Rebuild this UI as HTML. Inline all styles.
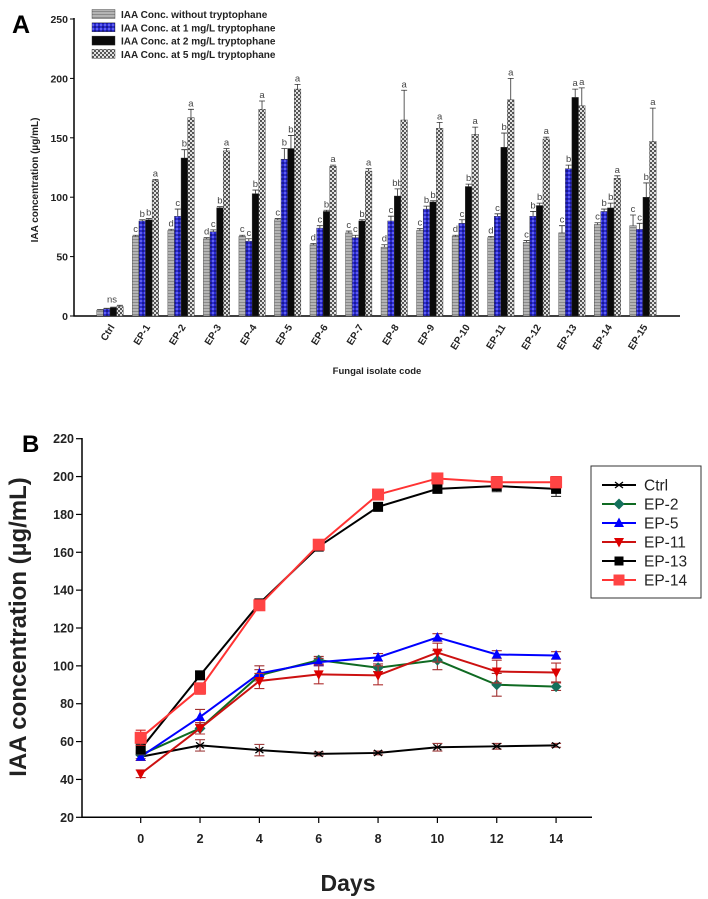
<!DOCTYPE html>
<html><head><meta charset="utf-8"><style>
body{margin:0;background:#fff}
svg{display:block;font-family:"Liberation Sans",Arial,sans-serif}
</style></head><body>
<svg id="fig" width="708" height="899" viewBox="0 0 708 899">
<defs>
<pattern id="pGrey" width="4" height="3" patternUnits="userSpaceOnUse"><rect width="4" height="3" fill="#b4b4b4"/><rect y="2" width="4" height="1" fill="#8a8a8a"/></pattern>
<pattern id="pBlue" width="4" height="4" patternUnits="userSpaceOnUse"><rect width="4" height="4" fill="#2a2ad0"/><rect x="0" y="0" width="2" height="2" fill="#6060ee"/><rect x="2" y="2" width="2" height="2" fill="#1a1a90"/></pattern>
<pattern id="pCheck" width="4" height="4" patternUnits="userSpaceOnUse"><rect width="4" height="4" fill="#e0e0e0"/><rect width="2" height="2" fill="#555"/><rect x="2" y="2" width="2" height="2" fill="#555"/></pattern>
</defs>
<g id="panelA"></g>
<g id="panelB"></g>
</svg>
<script>
// ---- Panel A data ----
const groupsA = ["Ctrl","EP-1","EP-2","EP-3","EP-4","EP-5","EP-6","EP-7","EP-8","EP-9","EP-10","EP-11","EP-12","EP-13","EP-14","EP-15"];
const noTrp  = [5,67,72,65,67,81,60,70,58,72,67,66,62,70,77,76];
const trp1   = [6,80,84,71,63,132,74,66,80,90,78,84,84,124,88,73];
const trp2   = [7,81,133,91,103,141,88,80,101,96,109,142,93,184,91,100];
const trp5   = [8,114,167,139,174,191,126,122,165,158,153,182,149,177,116,147];
const errNo  = [0.5,1,1,1,1,1,1,1.5,2,1.5,1,1,1.5,6,1.5,9];
const err1   = [0.5,1,6,1.5,2,9,2,2,4,2.5,3,2,4,3,2,5];
const err2   = [0.5,1,7,1,3,11,1,1,6,1,2,12,2,7,4,12];
const err5   = [1,1,7,2,7,4,1,2,25,5,6,18,1.5,15,2,28];
const letNo  = ["","c","d","d","c","c","d","c","d","c","d","d","c","c","c","c"];
const let1   = ["","b","c","c","c","b","c","c","c","b","c","c","b","b","b","c"];
const let2   = ["","b","b","b","b","b","b","b","bb","b","b","b","b","a","b","b"];
const let5   = ["","a","a","a","a","a","a","a","a","a","a","a","a","a","a","a"];
const ticksA = [0,50,100,150,200,250];
const legendA = ["IAA Conc.  without tryptophane","IAA Conc. at 1 mg/L tryptophane","IAA Conc. at 2 mg/L tryptophane","IAA Conc. at 5 mg/L tryptophane"];

// ---- Panel B data ----
const days = [0,2,4,6,8,10,12,14];
const ticksBy = [20,40,60,80,100,120,140,160,180,200,220];
const seriesNames = ["Ctrl","EP-2","EP-5","EP-11","EP-13","EP-14"];
const ctrlVals = [52,58,55.5,53.5,54,57,57.5,58];
const ep2Vals  = [53,67,95,103,99,103,90,89];
const ep5Vals  = [52,73,96,102,104.5,115,106,105.5];
const ep11Vals = [43,67,92,95.5,95,107,97,96.5];
const ep13Vals = [56,95,133,163,184,193.5,195,193.5];
const ep14Vals = [62,88,132,164,190.5,199,197,197];
const ctrlErr = [2,3,3,1,1,2,1.5,1];
const ep2Err  = [2,3,3,2,2,5,6,2];
const ep5Err  = [2,4,4,2,2,2,2,2];
const ep11Err = [2,3,4,5,5,5,6,5];
const ep13Err = [3,2,2,2,2,2,3,4];
const ep14Err = [4,3,2,2,2,2,3,3];

const NS="http://www.w3.org/2000/svg";
function mk(parent,tag,attrs,text){const e=document.createElementNS(NS,tag);for(const k in attrs)e.setAttribute(k,attrs[k]);if(text!==undefined)e.textContent=text;parent.appendChild(e);return e;}

// ===== Panel A =====
(function(){
const g=document.getElementById('panelA');
const yA=v=>316-v*1.188;
const xA=i=>110+i*35.53;
const bw=6.6;
const t=mk(g,'text',{x:12,y:33,'font-size':25,'font-weight':'bold'},'A');


const ax=mk(g,'path',{d:'M74,18 V316 H680',fill:'none',stroke:'#000','stroke-width':1.5});


ticksA.forEach(v=>{
  mk(g,'line',{x1:70,x2:74,y1:yA(v),y2:yA(v),stroke:'#000'});
  const l=mk(g,'text',{x:68,y:yA(v)+4,'font-size':10.5,'font-weight':'bold','text-anchor':'end',fill:'#222'},v);
  
  
});
const yt=mk(g,'text',{x:0,y:0,'font-size':10,'font-weight':'bold','text-anchor':'middle',transform:'translate(38,180) rotate(-90)',fill:'#222'},'IAA concentration (µg/mL)');


const xt=mk(g,'text',{x:377,y:374,'font-size':9.5,'font-weight':'bold','text-anchor':'middle',fill:'#222'},'Fungal isolate code');


const fills=['url(#pGrey)','url(#pBlue)','#0a0a0a','url(#pCheck)'];
const vals=[noTrp,trp1,trp2,trp5], errs=[errNo,err1,err2,err5], lets=[letNo,let1,let2,let5];
groupsA.forEach((name,i)=>{
  const cx=xA(i);
  for(let s=0;s<4;s++){
    const x=cx-2*bw+s*bw, v=vals[s][i];
    const r=mk(g,'rect',{x:x,y:yA(v),width:bw,height:316-yA(v),fill:fills[s],stroke:'#333','stroke-width':0.4});
    
    
    const e=errs[s][i], mx=x+bw/2;
    mk(g,'path',{d:`M${mx},${yA(v)} V${yA(v+e)} M${mx-3},${yA(v+e)} H${mx+3}`,stroke:'#333','stroke-width':0.8,fill:'none'});
    if(lets[s][i]){
      const lt=mk(g,'text',{x:mx,y:yA(v+e)-3,'font-size':9.5,'text-anchor':'middle',fill:'#444'},lets[s][i]);
      
      
    }
  }
  const lb=mk(g,'text',{x:0,y:0,'font-size':10,'font-weight':'bold','text-anchor':'end',fill:'#222',transform:`translate(${cx+5},${327}) rotate(-58)`},name);
  
  
});
const ns=mk(g,'text',{x:xA(0)+2,y:yA(9)-3,'font-size':9.5,'text-anchor':'middle',fill:'#444'},'ns');


legendA.forEach((txt,k)=>{
  const y=9.5+k*13.3;
  const sw=mk(g,'rect',{x:92,y:y,width:23,height:9,fill:fills[k],stroke:'#333','stroke-width':0.4});
  
  
  const lt=mk(g,'text',{x:121,y:y+8.5,'font-size':10,'font-weight':'bold',fill:'#222'},txt);
  
  
});
})();

// ===== Panel B =====
(function(){
const g=document.getElementById('panelB');
const yB=v=>817.3-(v-20)*1.893;
const xB=d=>140.7+d*29.67;
const t=mk(g,'text',{x:22,y:452,'font-size':24,'font-weight':'bold'},'B');


const ax=mk(g,'path',{d:'M82,438 V817.3 H592',fill:'none',stroke:'#000','stroke-width':1.5});


ticksBy.forEach(v=>{
  mk(g,'line',{x1:76,x2:82,y1:yB(v),y2:yB(v),stroke:'#000','stroke-width':1.2});
  const l=mk(g,'text',{x:74,y:yB(v)+4.5,'font-size':12.5,'font-weight':'bold','text-anchor':'end',fill:'#222'},v);
  
  
});
days.forEach(d=>{
  mk(g,'line',{x1:xB(d),x2:xB(d),y1:817.3,y2:823,stroke:'#000','stroke-width':1.2});
  const l=mk(g,'text',{x:xB(d),y:843,'font-size':12.5,'font-weight':'bold','text-anchor':'middle',fill:'#222'},d);
  
  
});
const xt=mk(g,'text',{x:348,y:891,'font-size':23,'font-weight':'bold','text-anchor':'middle',fill:'#222'},'Days');


const yt=mk(g,'text',{x:0,y:0,'font-size':24,'font-weight':'bold','text-anchor':'middle',fill:'#222',transform:'translate(26,627) rotate(-90)'},'IAA concentration (µg/mL)');


const allVals=[ctrlVals,ep2Vals,ep5Vals,ep11Vals,ep13Vals,ep14Vals];
const allErr=[ctrlErr,ep2Err,ep5Err,ep11Err,ep13Err,ep14Err];
const line=['#000','#0f6a22','#0000ff','#cc1111','#000','#ff3333'];
const mcol=['#000','#14705c','#0000ff','#dd0000','#000','#ff4444'];
const ecol=['#a04040','#a03030','#a03030','#b03030','#333','#cc2222'];
const shape=['x','diamond','up','down','square','square'];
function marker(p,sh,x,y,c,s){
  if(sh==='x'){return mk(p,'path',{d:`M${x-4},${y-3} L${x+4},${y+3} M${x-4},${y+3} L${x+4},${y-3}`,stroke:c,'stroke-width':1.3,fill:'none'});}
  if(sh==='diamond')return mk(p,'path',{d:`M${x},${y-5.5} L${x+5.5},${y} L${x},${y+5.5} L${x-5.5},${y}Z`,fill:c});
  if(sh==='up')return mk(p,'path',{d:`M${x},${y-5.5} L${x+5},${y+4} L${x-5},${y+4}Z`,fill:c});
  if(sh==='down')return mk(p,'path',{d:`M${x},${y+5.5} L${x+5},${y-4} L${x-5},${y-4}Z`,fill:c});
  return mk(p,'rect',{x:x-s,y:y-s,width:2*s,height:2*s,fill:c});
}
allVals.forEach((vals,si)=>{
  const sg=mk(g,'g',{});
  
  
  const pl=mk(sg,'polyline',{points:days.map((d,i)=>xB(d)+','+yB(vals[i])).join(' '),fill:'none',stroke:line[si],'stroke-width':2});
  
  
  days.forEach((d,i)=>{
    const x=xB(d),v=vals[i],e=allErr[si][i];
    mk(sg,'path',{d:`M${x},${yB(v-e)} V${yB(v+e)} M${x-5},${yB(v+e)} H${x+5} M${x-5},${yB(v-e)} H${x+5}`,stroke:ecol[si],'stroke-width':1.1,fill:'none'});
    const m=marker(sg,shape[si],x,yB(v),mcol[si],si===5?6:5);
    
    
  });
});
const lg=mk(g,'g',{});


mk(lg,'rect',{x:591,y:466,width:110,height:132,fill:'#fff',stroke:'#333','stroke-width':1});
seriesNames.forEach((n,k)=>{
  const y=485+k*19;
  mk(lg,'line',{x1:602,x2:636,y1:y,y2:y,stroke:line[k],'stroke-width':2});
  marker(lg,shape[k],619,y,mcol[k],k===5?5.5:4.5);
  const lt=mk(lg,'text',{x:644,y:y+5.5,'font-size':15.5,fill:'#222'},n);
  
  
});
})();
</script>
</body></html>
